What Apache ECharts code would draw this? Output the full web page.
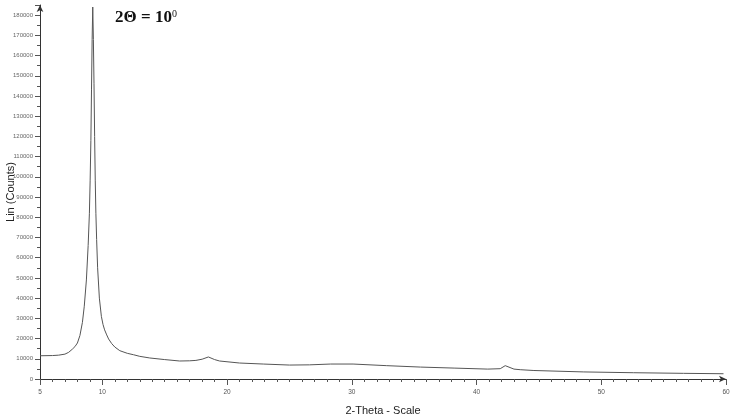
<!DOCTYPE html>
<html>
<head>
<meta charset="utf-8">
<script src="https://cdn.jsdelivr.net/npm/echarts@6/dist/echarts.min.js"></script>
<style>
	html, body { margin: 0; padding: 0; background: #fff; }
	#xrdChart { width: 733px; height: 419px; }
</style>
</head>
<body>
<div id="xrdChart"></div>
<script>
// values
const twoTheta = [5, 6, 6.5, 7, 7.3, 7.6, 7.8, 8, 8.2, 8.4, 8.55, 8.72, 8.86, 8.96, 9.02, 9.08, 9.13, 9.18, 9.23,
	9.28, 9.33, 9.38, 9.43, 9.48, 9.54, 9.62, 9.76, 9.92, 10.05, 10.18, 10.35, 10.5, 10.75, 11, 11.4, 12, 12.5, 13, 13.8, 15,
	16.2, 17, 17.5, 18, 18.5, 19, 19.4, 21, 22.9, 25, 26.6, 28.3, 30.1, 32.8, 35.5, 38.2, 40.9, 41.9,
	42.3, 43, 43.5, 44.6, 48.6, 52.6, 56.6, 59.8];
const counts = [11500, 11600, 11800, 12300, 13200, 14800, 16000, 17800, 21500, 28000, 36000, 49000, 66000, 82000, 98000, 118000, 143000, 168000, 184000,
	168000, 146000, 120000, 98000, 82000, 69000, 55000, 40000, 31000, 27000, 24300, 21800, 19800, 17500, 15800, 14000, 12700, 12000, 11200, 10400, 9600,
	8900, 9000, 9200, 9800, 10900, 9600, 8900, 7900, 7400, 6900, 7000, 7400, 7400, 6600, 5900, 5400, 4900, 5100,
	6600, 4900, 4600, 4200, 3500, 3100, 2800, 2600];
const xLabels = [5, 10, 20, 30, 40, 50, 60];
const xMajorTicks = [5, 10, 20, 30, 40, 50, 60];

const chartDom = document.getElementById("xrdChart");
const myChart = echarts.init(chartDom);

const points = twoTheta.map((t, i) => [t, counts[i]]);

const option = {
	animation: false,
	grid: { left: 40, right: 7, top: 5, bottom: 40, outerBoundsMode: "none", containLabel: false },
	xAxis: [{
		type: "value",
		min: 5,
		max: 60,
		interval: 1,
		name: "2-Theta - Scale",
		nameLocation: "middle",
		nameGap: 26,
		nameMoveOverlap: false,
		nameTextStyle: { fontFamily: "Liberation Sans", fontSize: 11, color: "#222" },
		axisLine: { lineStyle: { color: "#333", width: 1 }, symbol: ["none", "arrow"], symbolSize: [5, 7] },
		axisTick: { length: 3, lineStyle: { color: "#555" } },
		axisLabel: {
			customValues: xLabels,
			fontFamily: "Liberation Sans", fontSize: 6.5, color: "#555", margin: 10
		},
		splitLine: { show: false }
	}, {
		type: "value",
		min: 5,
		max: 60,
		position: "bottom",
		axisLine: { show: false },
		axisTick: { customValues: xMajorTicks, length: 6, lineStyle: { color: "#555" } },
		axisLabel: { show: false },
		splitLine: { show: false }
	}],
	yAxis: {
		type: "value",
		min: 0,
		max: 185000,
		interval: 10000,
		name: "Lin (Counts)",
		nameLocation: "middle",
		nameGap: 24,
		nameMoveOverlap: false,
		nameTextStyle: { fontFamily: "Liberation Sans", fontSize: 11, color: "#222" },
		axisLine: { show: true, lineStyle: { color: "#333", width: 1 }, symbol: ["none", "arrow"], symbolSize: [5, 7] },
		axisTick: { length: 5, lineStyle: { color: "#555" } },
		minorTick: { show: true, splitNumber: 2, length: 3, lineStyle: { color: "#555" } },
		axisLabel: {
			fontFamily: "Liberation Sans", fontSize: 6, color: "#666", margin: 7,
			formatter: (v) => v > 180000 ? "" : v
		},
		splitLine: { show: false }
	},
	series: [{
		type: "line",
		data: points,
		showSymbol: false,
		smooth: false,
		lineStyle: { color: "#555", width: 1 }
	}],
	graphic: [{
		type: "text",
		left: 115,
		top: 9,
		style: {
			text: "{a|2Θ = 10}{s|0}",
			rich: {
				a: { fontFamily: "Liberation Serif", fontWeight: "bold", fontSize: 17, fill: "#111" },
				s: { fontFamily: "Liberation Serif", fontSize: 10, fill: "#111", verticalAlign: "top", padding: [0, 0, 8, 0] }
			}
		}
	}]
};

option && myChart.setOption(option);
</script>
</body>
</html>
